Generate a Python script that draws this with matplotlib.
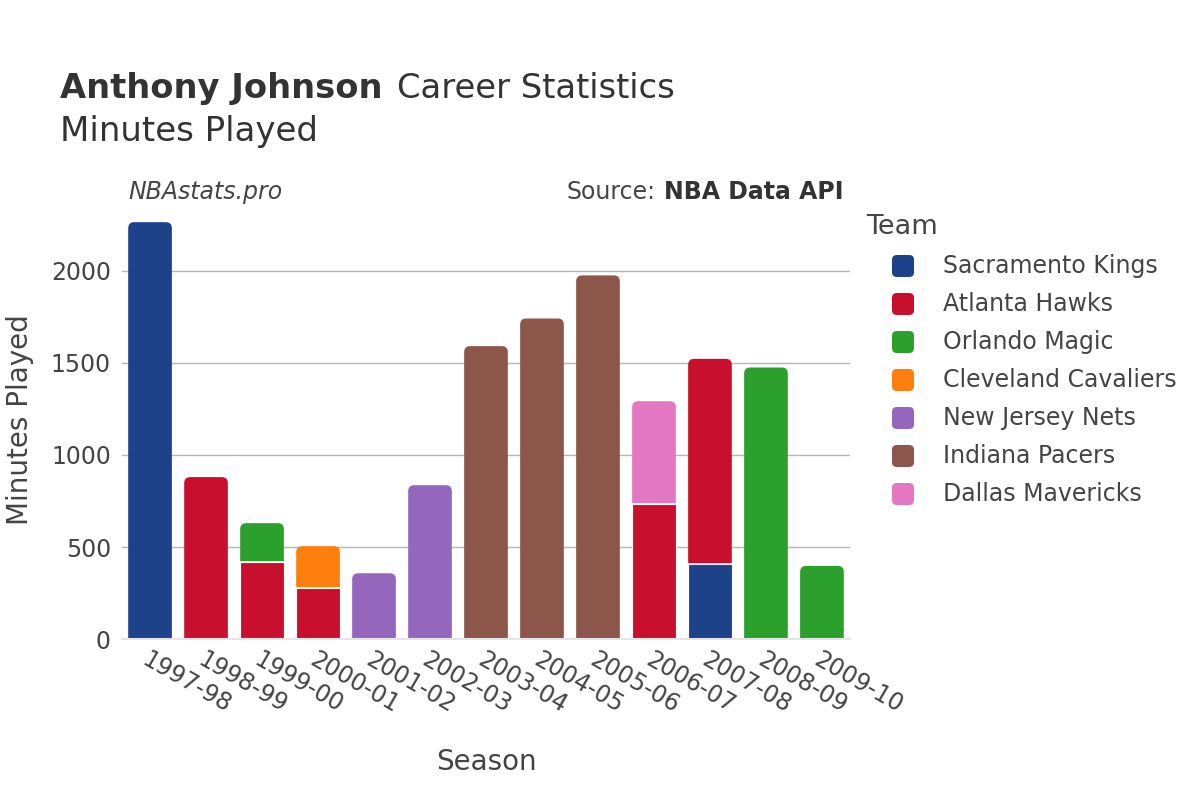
import matplotlib.pyplot as plt
import numpy as np
from matplotlib.patches import FancyBboxPatch, PathPatch
from matplotlib.path import Path

# Season labels
seasons = ['1997-98', '1998-99', '1999-00', '2000-01', '2001-02', '2002-03',
           '2003-04', '2004-05', '2005-06', '2006-07', '2007-08', '2008-09',
           '2009-10']

# Minutes per team per season (stacked in this order)
teams = ['Sacramento Kings', 'Atlanta Hawks', 'Orlando Magic',
         'Cleveland Cavaliers', 'New Jersey Nets', 'Indiana Pacers',
         'Dallas Mavericks']
sacramento = [2264, 0, 0, 0, 0, 0, 0, 0, 0, 0, 406, 0, 0]
atlanta = [0, 880, 421, 277, 0, 0, 0, 0, 0, 733, 1116, 0, 0]
orlando = [0, 0, 209, 0, 0, 0, 0, 0, 0, 0, 0, 1475, 398]
cleveland = [0, 0, 0, 228, 0, 0, 0, 0, 0, 0, 0, 0, 0]
new_jersey = [0, 0, 0, 0, 358, 836, 0, 0, 0, 0, 0, 0, 0]
indiana = [0, 0, 0, 0, 0, 0, 1591, 1741, 1975, 0, 0, 0, 0]
dallas = [0, 0, 0, 0, 0, 0, 0, 0, 0, 559, 0, 0, 0]

team_values = [sacramento, atlanta, orlando, cleveland, new_jersey, indiana, dallas]
colors = ['#1D428A', '#C8102E', '#2CA02C', '#FF7F0E', '#9467BD', '#8C564B', '#E377C2']

plt.rcParams['font.family'] = ['DejaVu Sans']
txt = '#444444'
dark = '#333333'


# bar outline with rounded top corners (rx, ry in data units)
def top_rounded(x0, y0, w, h, rx, ry):
    x1, y1 = x0 + w, y0 + h
    verts = [(x0, y0), (x1, y0), (x1, y1 - ry), (x1, y1), (x1 - rx, y1),
             (x0 + rx, y1), (x0, y1), (x0, y1 - ry), (x0, y0)]
    codes = [Path.MOVETO, Path.LINETO, Path.LINETO, Path.CURVE3, Path.CURVE3,
             Path.LINETO, Path.CURVE3, Path.CURVE3, Path.CLOSEPOLY]
    return Path(verts, codes)


fig = plt.figure(figsize=(12, 8), dpi=100)
ax = fig.add_axes([0.1017, 0.201, 0.6066, 0.548])

x = np.arange(len(seasons))
width = 0.78
data = np.array(team_values, dtype=float)
bottoms = np.zeros(len(seasons))
# index of the topmost non-zero team in each season
top_idx = [max(i for i in range(len(teams)) if data[i, j] > 0) for j in range(len(seasons))]

ax.set_xlim(-0.5, len(seasons) - 0.5)
ax.set_ylim(0, 2380)

# rounding radius ~6 px, converted to data units
rx = 6 / 56.0
ry = 6 * 5.43

for i, team in enumerate(teams):
    vals = data[i]
    bars = ax.bar(x, vals, width, bottom=bottoms, color=colors[i],
                  edgecolor='white', linewidth=0.8, zorder=3)
    for j, b in enumerate(bars):
        if vals[j] <= 0:
            b.set_visible(False)
            continue
        if top_idx[j] == i:
            b.set_visible(False)
            ax.add_patch(PathPatch(top_rounded(b.get_x(), b.get_y(), b.get_width(),
                                               b.get_height(), rx, ry),
                                   facecolor=colors[i], edgecolor='none', zorder=3))
            if b.get_y() > 0:
                ax.plot([b.get_x(), b.get_x() + b.get_width()], [b.get_y()] * 2,
                        color='white', lw=1.2, zorder=3.2)
    bottoms = bottoms + vals

# axes styling
for s in ['top', 'right', 'left']:
    ax.spines[s].set_visible(False)
ax.spines['bottom'].set_color('#e5e5e5')
ax.spines['bottom'].set_linewidth(1.5)
ax.spines['bottom'].set_zorder(4)
ax.set_yticks([0, 500, 1000, 1500, 2000])
ax.yaxis.grid(True, color='#b5b5b5', linewidth=1, zorder=0)
ax.set_axisbelow(True)
ax.tick_params(axis='y', length=0, labelsize=17, labelcolor=txt, pad=8)
ax.tick_params(axis='x', length=0, labelsize=17, labelcolor=txt, pad=6)
ax.set_xticks(x)
ax.set_xticklabels(seasons, rotation=-30, ha='left', va='top', rotation_mode='anchor')

ax.set_ylabel('Minutes Played', fontsize=20, color=txt, labelpad=12)
ax.set_xlabel('Season', fontsize=20, color=txt, labelpad=22)

# titles
renderer = fig.canvas.get_renderer()
t1 = fig.text(0.05, 0.889, 'Anthony Johnson', fontsize=24.3, fontweight='bold', color=dark, va='center')
bb = t1.get_window_extent(renderer)
fig.text((bb.x1 + 14) / 1200, 0.889, 'Career Statistics', fontsize=24.3, color=dark, va='center')
fig.text(0.05, 0.835, 'Minutes Played', fontsize=24.5, color=dark, va='center')

fig.text(0.107, 0.76, 'NBAstats.pro', fontsize=17, style='italic', color=txt, va='center')
t2 = fig.text(0.7033, 0.76, 'NBA Data API', fontsize=17, fontweight='bold', color=dark,
              va='center', ha='right')
bb = t2.get_window_extent(renderer)
fig.text((bb.x0 - 9) / 1200, 0.76, 'Source:', fontsize=17, color=txt, va='center', ha='right')

# legend drawn by hand so the markers can be rounded
fig.text(866 / 1200, 1 - 227 / 800, 'Team', fontsize=19.5, color=txt, va='center')
for k, team in enumerate(teams):
    yc = 1 - (266 + 38 * k) / 800
    fig.patches.append(FancyBboxPatch((892 / 1200, yc - 11 / 800), 22 / 1200, 22 / 800,
                                      boxstyle='round,pad=0,rounding_size=0.004',
                                      mutation_aspect=1.5,
                                      transform=fig.transFigure, facecolor=colors[k],
                                      edgecolor='none', figure=fig))
    fig.text(943 / 1200, yc, team, fontsize=17, color=txt, va='center')

fig.savefig('out.png', dpi=100)
